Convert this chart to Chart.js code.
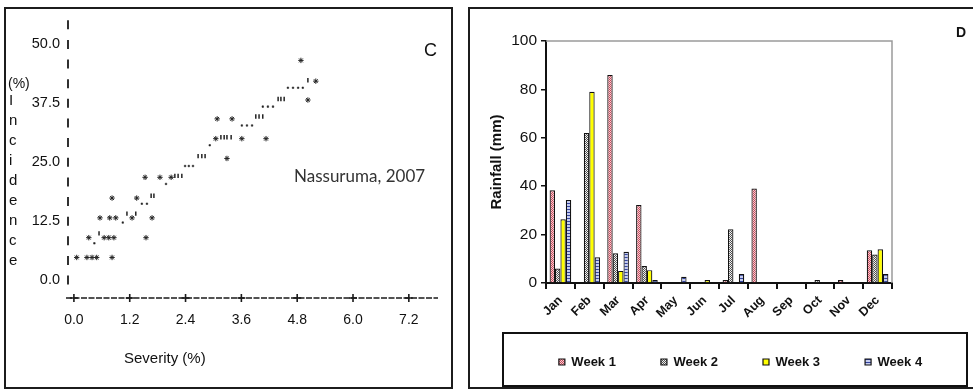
<!DOCTYPE html>
<html>
<head>
<meta charset="utf-8">
<script src="https://cdn.jsdelivr.net/npm/chart.js@4"></script>
<style>
  html, body { margin: 0; padding: 0; background: #fff; }
  body { width: 973px; height: 390px; position: relative; overflow: hidden;
         font-family: 'Liberation Sans', Arial, sans-serif; color: #111; }
  .panel { position: absolute; box-sizing: border-box; border: 2px solid #1c1c1c; }
  #panelC { left: 4px; top: 7px; width: 449px; height: 382px; }
  #panelD { left: 468px; top: 7px; width: 540px; height: 382px; }
  canvas { position: absolute; }
  #sevChart { left: 5px; top: 8px; }
  #rainChart { left: 470px; top: 8px; }
  .lbl { position: absolute; white-space: nowrap; line-height: 1; }
</style>
</head>
<body>
<div class="panel" id="panelC"></div>
<div class="panel" id="panelD"></div>
<canvas id="sevChart" width="446" height="380"></canvas>
<canvas id="rainChart" width="554" height="381"></canvas>

<div class="lbl" style="left:8px;top:76px;font-size:14px">(%)</div>
<div class="lbl" style="left:9px;top:90px;font-size:15px;line-height:20px">I<br>n<br>c<br>i<br>d<br>e<br>n<br>c<br>e</div>
<div class="lbl" style="left:124px;top:350px;font-size:15px">Severity (%)</div>
<div class="lbl" style="left:424px;top:41px;font-size:18px">C</div>
<div class="lbl" style="left:294px;top:167px;font-size:17px;font-family:Lato,'Open Sans',sans-serif;color:#333">Nassuruma, 2007</div>
<div class="lbl" style="left:956px;top:25px;font-size:14px;font-weight:bold">D</div>

<script>
// Panel C: incidence vs severity (character plot), panel D: weekly rainfall

const SEV_TICKS = [0, 1.2, 2.4, 3.6, 4.8, 6.0, 7.2];
const INC_TICKS = [0, 12.5, 25, 37.5, 50];

// '*' characters
const STAR_SEV = [0.06, 0.28, 0.39, 0.49, 0.82, 0.32, 0.65, 0.75, 0.86, 1.55,
  0.56, 0.77, 0.90, 1.25, 1.68, 0.82, 1.35, 1.53, 1.85, 2.09, 3.29,
  3.05, 3.61, 4.13, 3.08, 3.40, 5.03, 5.20, 4.88];
const STAR_INC = [4.8, 4.8, 4.8, 4.8, 4.8, 9, 9, 9, 9, 9,
  13.2, 13.2, 13.2, 13.2, 13.2, 17.4, 17.4, 21.8, 21.8, 21.8, 25.8,
  30, 30, 30, 34.2, 34.2, 38.2, 42.2, 46.6];

// '.' characters
const DOT_SEV = [0.44, 1.05, 1.46, 1.57, 1.98, 2.39, 2.47, 2.56, 2.92, 3.61,
  3.72, 3.83, 4.06, 4.17, 4.28, 4.60, 4.71, 4.82, 4.92];
const DOT_INC = [7.8, 12.2, 16.2, 16.2, 20.4, 24.2, 24.2, 24.2, 28.6, 32.8,
  32.8, 32.8, 36.8, 36.8, 36.8, 40.8, 40.8, 40.8, 40.8];

// "'" characters
const TICK_SEV = [0.54, 1.14, 1.33, 1.66, 1.72, 2.17, 2.24, 2.32, 2.67, 2.75,
  2.82, 3.16, 3.23, 3.29, 3.38, 3.91, 3.98, 4.06, 4.39, 4.45, 4.52, 5.03];
const TICK_INC = [9.9, 14.1, 14.1, 17.9, 17.9, 22.1, 22.1, 22.1, 26.3, 26.3,
  26.3, 30.3, 30.3, 30.3, 30.3, 34.7, 34.7, 34.7, 38.4, 38.4, 38.4, 42.4];

const MONTHS = ['Jan', 'Feb', 'Mar', 'Apr', 'May', 'Jun', 'Jul', 'Aug', 'Sep', 'Oct', 'Nov', 'Dec'];
const WEEK1 = [38.3, 0, 86, 32.2, 0, 0, 1.2, 39, 0, 0, 1.2, 13.5];
const WEEK2 = [6, 62, 12.3, 7, 0, 0, 22.2, 0, 0, 1.2, 0, 11.8];
const WEEK3 = [26.3, 79, 5, 5.3, 0, 1.2, 0, 0, 0, 0, 0, 13.9];
const WEEK4 = [34.3, 10.6, 12.9, 1.2, 2.6, 0, 3.7, 0, 0, 0, 0, 3.7];

Chart.defaults.font.family = "'Liberation Sans', Arial, sans-serif";
Chart.defaults.color = '#111';

const pts = (xs, ys) => xs.map((x, i) => ({ x, y: ys[i] }));

// "I" column and "-+----+" axis of the character plot
const asciiAxes = {
  id: 'asciiAxes',
  afterDraw(chart) {
    const { ctx, chartArea: a, scales: { x, y } } = chart;
    ctx.save();
    ctx.strokeStyle = '#1a1a1a';
    ctx.lineWidth = 1.8;
    const rowStep = 12.5 / 3;
    for (let v = 0; v <= y.max; v += rowStep) {
      const py = y.getPixelForValue(v);
      ctx.beginPath();
      ctx.moveTo(a.left + 2, py - 4.5);
      ctx.lineTo(a.left + 2, py + 4.5);
      ctx.stroke();
    }
    ctx.lineWidth = 1.3;
    ctx.setLineDash([6, 1.5]);
    ctx.beginPath();
    ctx.moveTo(a.left, a.bottom);
    ctx.lineTo(a.right - 2, a.bottom);
    ctx.stroke();
    ctx.setLineDash([]);
    ctx.lineWidth = 1.6;
    x.ticks.forEach(t => {
      const px = x.getPixelForValue(t.value);
      ctx.beginPath();
      ctx.moveTo(px, a.bottom - 4);
      ctx.lineTo(px, a.bottom + 4);
      ctx.moveTo(px - 4, a.bottom);
      ctx.lineTo(px + 4, a.bottom);
      ctx.stroke();
    });
    ctx.restore();
  }
};

new Chart(document.getElementById('sevChart'), {
  type: 'scatter',
  data: {
    datasets: [
      { data: pts(STAR_SEV, STAR_INC), pointStyle: 'star', radius: 2.7,
        borderColor: '#222', borderWidth: 1 },
      { data: pts(DOT_SEV, DOT_INC), pointStyle: 'rect', radius: 1.1,
        backgroundColor: '#222', borderColor: '#222', borderWidth: 0.5 },
      { data: pts(TICK_SEV, TICK_INC), pointStyle: 'line', rotation: 90, radius: 2.2,
        borderColor: '#222', borderWidth: 1.5 },
    ],
  },
  options: {
    responsive: false,
    animation: false,
    layout: { padding: { top: 12, right: 11, left: 0, bottom: 0 } },
    plugins: { legend: { display: false }, tooltip: { enabled: false } },
    scales: {
      x: {
        type: 'linear', min: -0.17, max: 7.87,
        afterBuildTicks: s => { s.ticks = SEV_TICKS.map(v => ({ value: v })); },
        afterFit: s => { s.height = 90; },
        grid: { display: false, drawTicks: false },
        border: { display: false },
        ticks: { padding: 14, font: { size: 14 }, color: '#111', maxRotation: 0,
                 autoSkip: false, callback: v => v.toFixed(1) },
      },
      y: {
        type: 'linear', min: -3.8, max: 54.6,
        afterBuildTicks: s => { s.ticks = INC_TICKS.map(v => ({ value: v })); },
        afterFit: s => { s.width = 61; },
        grid: { display: false, drawTicks: false },
        border: { display: false },
        ticks: { padding: 6, font: { size: 14.5 }, color: '#111', callback: v => v.toFixed(1) },
      },
    },
  },
  plugins: [asciiAxes],
});

function makePattern(w, h, draw) {
  const c = document.createElement('canvas');
  c.width = w;
  c.height = h;
  const g = c.getContext('2d');
  draw(g);
  return g.createPattern(c, 'repeat');
}

const WEEK_FILLS = [
  makePattern(2, 2, g => {
    g.fillStyle = '#f6cdd1'; g.fillRect(0, 0, 2, 2);
    g.fillStyle = '#c84a5c'; g.fillRect(0, 0, 1, 1); g.fillRect(1, 1, 1, 1);
  }),
  makePattern(2, 2, g => {
    g.fillStyle = '#f2f2f2'; g.fillRect(0, 0, 2, 2);
    g.fillStyle = '#505050'; g.fillRect(0, 0, 1, 1); g.fillRect(1, 1, 1, 1);
  }),
  '#ffff00',
  makePattern(1, 3, g => {
    g.fillStyle = '#c5ccef'; g.fillRect(0, 0, 1, 3);
    g.fillStyle = '#3445a0'; g.fillRect(0, 0, 1, 1);
  }),
];

// grey plot frame (top/right) and the box round the legend
const plotFrame = {
  id: 'plotFrame',
  beforeDatasetsDraw(chart) {
    const { ctx, chartArea: a } = chart;
    ctx.save();
    ctx.strokeStyle = '#9a9a9a';
    ctx.lineWidth = 1.5;
    ctx.beginPath();
    ctx.moveTo(a.left, a.top);
    ctx.lineTo(a.right, a.top);
    ctx.lineTo(a.right, a.bottom);
    ctx.stroke();
    ctx.restore();
  },
  afterDraw(chart) {
    const { ctx } = chart;
    ctx.save();
    ctx.strokeStyle = '#111';
    ctx.lineWidth = 2;
    ctx.strokeRect(33, 325, 464, 53);
    ctx.restore();
  }
};

const baseLabels = Chart.defaults.plugins.legend.labels.generateLabels;

new Chart(document.getElementById('rainChart'), {
  type: 'bar',
  data: {
    labels: MONTHS,
    datasets: [WEEK1, WEEK2, WEEK3, WEEK4].map((d, i) => ({
      label: 'Week ' + (i + 1),
      data: d,
      backgroundColor: WEEK_FILLS[i],
      borderColor: '#111',
      borderWidth: 1.2,
      categoryPercentage: 0.75,
      barPercentage: 1,
    })),
  },
  options: {
    responsive: false,
    animation: false,
    layout: { padding: { top: 33, bottom: 10.5, left: 0, right: 0 } },
    plugins: {
      legend: {
        position: 'bottom',
        labels: {
          boxWidth: 6, boxHeight: 6, padding: 32, color: '#111',
          font: { size: 13, weight: 'bold' },
          // trailing spaces widen each item to the wide spacing of the original
          generateLabels: chart => baseLabels(chart).map(l => ({ ...l, text: l.text + '\u2002\u2002' })),
        },
      },
      tooltip: { enabled: false },
    },
    scales: {
      x: {
        grid: { offset: true, drawOnChartArea: false, tickLength: 6, color: '#111', lineWidth: 2 },
        border: { color: '#111', width: 2 },
        ticks: { minRotation: 45, maxRotation: 45, padding: 4, autoSkip: false, color: '#111',
                 font: { size: 12.5, weight: 'bold' } },
        afterFit: s => { s.height = 40.5; },
      },
      y: {
        min: 0, max: 100,
        ticks: { stepSize: 20, padding: 4, color: '#111',
                 font: { family: "'Liberation Sans Narrow', 'Arial Narrow', 'Liberation Sans', sans-serif", size: 15.5 } },
        grid: { drawOnChartArea: false, tickLength: 5, color: '#111', lineWidth: 1.5 },
        border: { color: '#111', width: 2 },
        title: { display: true, text: 'Rainfall (mm)', color: '#111',
                 font: { size: 15, weight: 'bold' }, padding: { top: 18, bottom: 0 } },
        afterFit: s => { s.width = 76; },
      },
      pad: {
        type: 'linear', position: 'right',
        grid: { display: false }, ticks: { display: false }, border: { display: false },
        afterFit: s => { s.width = 132; },
      },
    },
  },
  plugins: [plotFrame],
});
</script>
</body>
</html>
